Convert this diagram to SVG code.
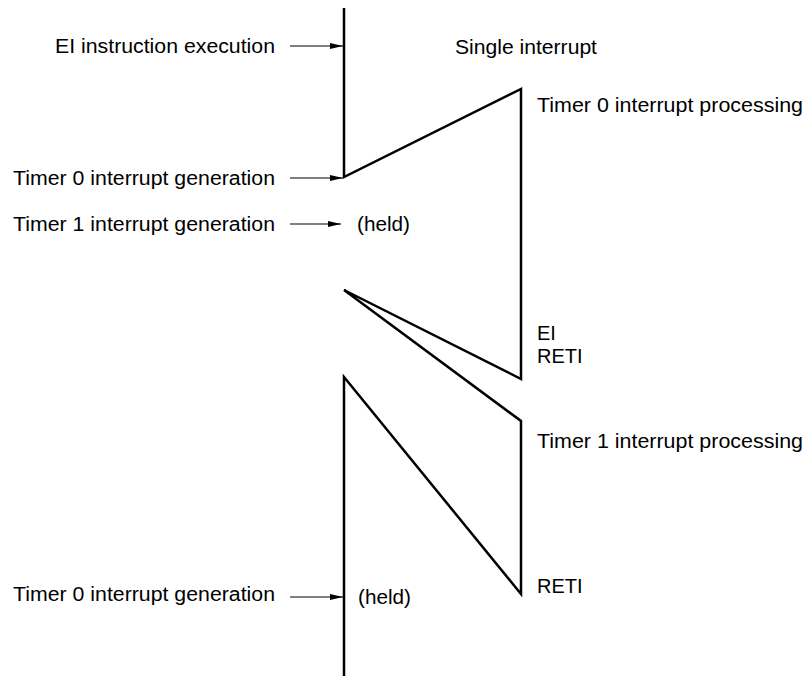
<svg xmlns="http://www.w3.org/2000/svg" width="805" height="679" viewBox="0 0 805 679">
<style>
text{font-family:"Liberation Sans",Arial,sans-serif;font-size:20px;fill:#000}
.flow{fill:none;stroke:#000;stroke-width:2.5;stroke-linejoin:miter}
.arr{fill:none;stroke:#000;stroke-width:1.2}
</style>
<defs>
<marker id="ah" markerWidth="13" markerHeight="8" refX="13" refY="4" orient="auto" markerUnits="userSpaceOnUse">
<path d="M0,1 L13,4 L0,7 Z" fill="#000"/>
</marker>
</defs>
<rect width="805" height="679" fill="#fff"/>
<g id="connectors">
<polyline class="flow" points="344,8 344,177 521,89 521,379 344,290 521,421 521,594 344,377 344,676"/>
<line class="arr" x1="290" y1="46" x2="343" y2="46" marker-end="url(#ah)"/>
<line class="arr" x1="290" y1="178" x2="343" y2="178" marker-end="url(#ah)"/>
<line class="arr" x1="290" y1="224" x2="341" y2="224" marker-end="url(#ah)"/>
<line class="arr" x1="290" y1="597" x2="343" y2="597" marker-end="url(#ah)"/>
</g>
<g id="ei-exec"><text x="55" y="53" textLength="220" lengthAdjust="spacingAndGlyphs">EI instruction execution</text></g>
<g id="single"><text x="455" y="54" textLength="142" lengthAdjust="spacingAndGlyphs">Single interrupt</text></g>
<g id="t0-proc"><text x="537" y="112" textLength="266" lengthAdjust="spacingAndGlyphs">Timer 0 interrupt processing</text></g>
<g id="t0-gen1"><text x="13" y="185" textLength="262" lengthAdjust="spacingAndGlyphs">Timer 0 interrupt generation</text></g>
<g id="t1-gen"><text x="13" y="231" textLength="262" lengthAdjust="spacingAndGlyphs">Timer 1 interrupt generation</text></g>
<g id="held1"><text x="357" y="231" textLength="53" lengthAdjust="spacingAndGlyphs">(held)</text></g>
<g id="ei-reti"><text x="537" y="340">EI</text><text x="537" y="363">RETI</text></g>
<g id="t1-proc"><text x="537" y="448" textLength="266" lengthAdjust="spacingAndGlyphs">Timer 1 interrupt processing</text></g>
<g id="reti2"><text x="537" y="593">RETI</text></g>
<g id="t0-gen2"><text x="13" y="601" textLength="262" lengthAdjust="spacingAndGlyphs">Timer 0 interrupt generation</text></g>
<g id="held2"><text x="358" y="604" textLength="53" lengthAdjust="spacingAndGlyphs">(held)</text></g>
</svg>
